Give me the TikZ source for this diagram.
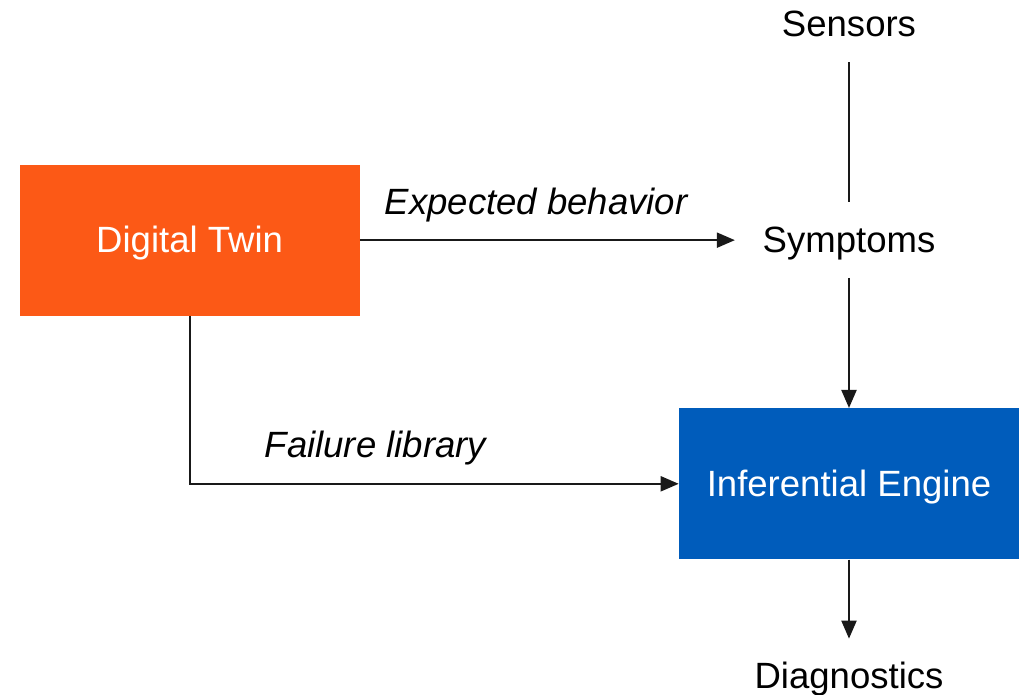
\documentclass[tikz,border=0pt]{standalone}
\usepackage{fontspec}
\setmainfont{Liberation Sans}
\usepackage{tikz}
\usetikzlibrary{positioning,arrows.meta}
\definecolor{twinorange}{RGB}{252,89,22}
\definecolor{engineblue}{RGB}{0,92,187}

\begin{document}
\begin{tikzpicture}[x=0.02cm, y=0.02cm,
  font=\fontsize{20.8}{25}\selectfont,
  label/.style = {text height=0.5cm, text depth=0cm, inner xsep=0.55cm, inner ysep=0.5cm},
  box/.style = {minimum width=6.8cm, minimum height=3.02cm, inner sep=0pt,
                text height=0.5cm, text depth=0cm, text=white},
  flow/.style = {line width=1.2pt, draw=black!90, -{Triangle[length=0.36cm, width=0.3cm]}}]
\useasboundingbox (0,0) rectangle (1019,-695);

\node[label] (sensors) at (849,-24.5) {Sensors};
\node[label] (symptoms) [below=2.8cm of sensors] {Symptoms};
\node[box, fill=twinorange] (twin) [left=7.5cm of symptoms] {Digital Twin};
\node[box, fill=engineblue] (engine) [below=2.6cm of symptoms] {Inferential Engine};
\node[label] (diagnostics) [below=1.58cm of engine] {Diagnostics};

\draw[line width=1.2pt, draw=black!90] (sensors) -- (symptoms);
\draw[flow] (twin) -- node[label, above=0pt, pos=0.47, font=\fontsize{20.8}{25}\selectfont\itshape] {Expected behavior} (symptoms);
\draw[flow] (symptoms) -- (engine);
\draw[flow] (twin.south) |- node[label, above=0pt, pos=0.69, font=\fontsize{20.8}{25}\selectfont\itshape] {Failure library} (engine.west);
\draw[flow] (engine) -- (diagnostics);
\end{tikzpicture}
\end{document}
